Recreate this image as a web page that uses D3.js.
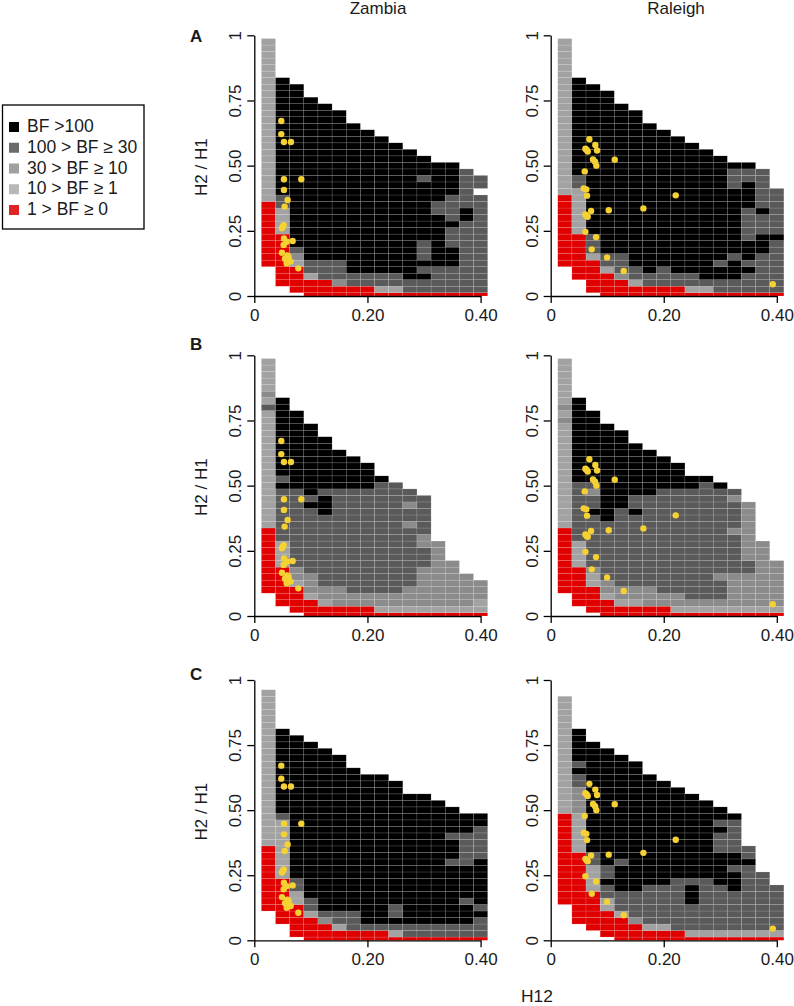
<!DOCTYPE html>
<html><head><meta charset="utf-8">
<script src="https://cdn.jsdelivr.net/npm/d3@7/dist/d3.min.js"></script>
<style>html,body{margin:0;padding:0;background:#fff}svg{display:block}text{font-family:"Liberation Sans",Arial,sans-serif;fill:#1a1a1a}</style>
</head><body><div id="chart"></div>
<script>
// Each column is a run list from the bottom row up: e=empty r,l,m,d,b = BF classes
const zambiaA=["e5 r10 l25","e2 r8 l4 d2 b18","e1 r4 l1 m1 d1 b25","r3 l1 d2 b25","r3 d3 b24","r2 m1 d3 b23","r2 d2 b23","r2 d2 b22","r1 l1 d2 b21","r1 l1 d2 b20","r1 d2 b20","r1 d2 b1 d1 b1 d3 b9 d1 b3","r1 d4 b8 d2 b6","r1 d4 b3 d3 b1 d4 b5","r1 d11 b2 d6","r1 d15 e1 d2"];
const raleighA=["e5 r11 l24","e3 r7 l7 d2 b15","e1 r5 l1 d3 b23","r4 l1 d2 b25","r3 m1 d3 b23","r2 l1 d2 b24","r2 d2 b23","r2 d3 b21","r2 d2 b21","r1 l1 d2 b20","r1 l1 d1 b20","r1 d2 b2 d1 b16","r1 d2 b3 d1 b10 d3 b1","r1 d3 b1 d1 b3 d5 b4 d2 b1","r1 d6 b3 d3 b1 d6","r1 d8 b1 d7"];
const zambiaB=["e4 r10 l18 d1 l1 m1 l5","e2 r6 l4 d8 b1 d1 b12","e1 r4 l1 m2 d12 b12","r3 l1 m3 d10 b1 d1 b11","r2 l1 m2 d11 b3 d1 b8","r2 m3 d15 b6","r2 m2 d16 b5","r2 m2 d16 b4","r1 l1 m2 d17 b1","r1 l1 m2 d17","r1 l1 m3 d9 m1 d2 m1 d2","r1 l1 m6 d3 m2 d6","r1 l1 m10","r1 l1 m7","r1 l1 m5","r1 l2 m3"];
const raleighB=["e4 r10 l16 m1 l1 m1 l7","e2 r6 l4 d9 b13","e1 r4 l2 m1 d8 b1 d2 m1 d1 b11","r3 l1 m2 d9 b15","r2 l1 m2 d12 b12","r2 l1 m2 d11 b1 d2 b8","r2 m3 d14 b7","r2 m2 d16 b5","r1 l1 m2 d16 b4","r1 l1 m1 d17 b2","r1 l1 m1 d18 b1","r1 l1 m1 d3 m1 d13 b1","r1 l1 m5 d6 m1 d4 m1 d1","r1 l1 m5 d2 m9","r1 l1 m10","r1 l1 m7"];
const zambiaC=["e5 r10 l24","e3 r7 l9 d1 b13","e1 r5 l2 d2 b22","r4 l1 d2 b24","r3 m1 d1 b25","r2 l1 d2 b24","r2 d3 b22","r2 d1 b23","r2 d1 b23","r1 l1 d1 b1 d2 b19","r1 d2 b20","r1 d2 b20","r1 d2 b19","r1 d2 b9 d1 b3 d1 b4","r1 d2 b3 d1 b5 d5 b3","r1 d3 b1 d1 b7 d5 b2"];
const raleighC=["e6 r14 l18","e3 r11 l6 m4 d2 b1 d1 b5","e2 r6 l4 d2 b17","e1 r4 l2 d2 b1 d2 b18","r4 l1 d3 b4 d1 b16","r3 m1 d4 b20","r2 l1 d6 b17","r2 l1 d6 b16","r2 d8 b14","r1 l1 d4 b3 d1 b13","r1 l1 d8 b12","r1 l1 d7 b5 d3 b1 d1 b2","r1 l1 d6 b3 d1 b2 d5 b1","r1 l1 d10 b1 d2","r1 l1 d9","r1 l1 d7"];

const zambiaDotsX=[.0477,.0477,.0524,.0648,.0524,.0831,.0524,.0589,.0536,.0519,.0489,.0501,.0524,.0572,.0678,.0519,.0489,.0583,.0607,.0542,.0642,.0572,.056,.0778];
const zambiaDotsY=[.671,.621,.591,.591,.448,.448,.407,.368,.343,.272,.260,.266,.221,.208,.211,.196,.166,.156,.151,.143,.132,.125,.141,.106];
const raleighDotsX=[.0684,.079,.0614,.0637,.0655,.082,.0749,.0785,.0808,.1133,.0602,.0584,.0631,.0643,.0714,.1027,.164,.2212,.0614,.0637,.0655,.0614,.0802,.0726,.0997,.1292,.3929];
const raleighDotsY=[.601,.579,.565,.56,.554,.558,.524,.515,.5,.523,.478,.413,.409,.385,.326,.329,.336,.386,.313,.307,.304,.246,.226,.179,.148,.096,.045];

const xTickValues=[0,.2,.4], xTickLabels=["0","0.20","0.40"];
const yTickValues=[0,.25,.5,.75,1], yTickLabels=["0","0.25","0.50","0.75","1"];
const classCodes=["b","d","m","l","r"];
const classColors=["#000000","#5a5a5a","#8b8b8b","#a2a2a2","#e00000"];
const legendLabels=["BF >100","100 > BF \u2265 30","30 > BF \u2265 10","10 > BF \u2265 1","1 > BF \u2265 0"];
const legendColors=["#000000","#6b6b6b","#a0a0a0","#b8b8b8","#e02424"];
const colStep=.025,rowStep=.025;

const W=794,H=1006;
const svg=d3.select("#chart").append("svg").attr("width",W).attr("height",H);
const color=d3.scaleOrdinal(classCodes,classColors);

const rowsTop={A:[296,35.3],B:[616,355.3],C:[940.3,680]};
const colsLeft={Zambia:[254.3,480.6],Raleigh:[550.7,776.8]};

function panel(grid,dotsX,dotsY,city,row,showY){
  const x=d3.scaleLinear([0,.4],colsLeft[city]);
  const y=d3.scaleLinear([0,1],rowsTop[row]);
  const g=svg.append("g");
  const cells=[];
  grid.forEach((col,ci)=>{
    let k=0;
    col.split(" ").forEach(run=>{
      const code=run[0],n=+run.slice(1);
      for(let j=0;j<n;j++,k++) if(code!=="e") cells.push({ci,k,code});
    });
  });
  g.selectAll("rect").data(cells).join("rect")
    .attr("x",d=>x(colStep*(d.ci+1)-colStep/2))
    .attr("width",d=>x(colStep*(d.ci+1)+colStep/2)-x(colStep*(d.ci+1)-colStep/2))
    .attr("y",d=>y(rowStep*d.k+rowStep/2))
    .attr("height",d=>y(Math.max(0,rowStep*d.k-rowStep/2))-y(rowStep*d.k+rowStep/2))
    .attr("fill",d=>color(d.code))
    .attr("stroke","#fff").attr("stroke-opacity",.24).attr("stroke-width",.5);
  g.append("g").selectAll("circle").data(dotsX).join("circle")
    .attr("cx",d=>x(d)).attr("cy",(d,i)=>y(dotsY[i])).attr("r",3.2).attr("fill","#f6d133");
  const ax=g.append("g").attr("transform",`translate(0,${y(0)})`)
    .call(d3.axisBottom(x).tickValues(xTickValues).tickFormat((d,i)=>xTickLabels[i]).tickSize(7).tickSizeOuter(0).tickPadding(6));
  const ay=g.append("g").attr("transform",`translate(${x(0)},0)`)
    .call(d3.axisLeft(y).tickValues(yTickValues).tickFormat((d,i)=>yTickLabels[i]).tickSize(7).tickSizeOuter(0));
  [ax,ay].forEach(a=>{a.selectAll("path,line").attr("stroke","#000").attr("stroke-width",1.3);
    a.selectAll("text").attr("font-size",17).attr("font-family",'"Liberation Sans",Arial,sans-serif').attr("fill","#1a1a1a");});
  ay.selectAll("text").attr("x",null).attr("dy",null).attr("text-anchor","middle").attr("transform","translate(-13,0) rotate(-90)");
  if(showY) svg.append("text").attr("transform",`translate(${showY},${(y(0)+y(1))/2+1.5}) rotate(-90)`).attr("text-anchor","middle").attr("font-size",17).text("H2 / H1");
}
panel(zambiaA,zambiaDotsX,zambiaDotsY,"Zambia","A",207);
panel(raleighA,raleighDotsX,raleighDotsY,"Raleigh","A");
panel(zambiaB,zambiaDotsX,zambiaDotsY,"Zambia","B",207);
panel(raleighB,raleighDotsX,raleighDotsY,"Raleigh","B");
panel(zambiaC,zambiaDotsX,zambiaDotsY,"Zambia","C",207);
panel(raleighC,raleighDotsX,raleighDotsY,"Raleigh","C");

svg.append("text").attr("x",378).attr("y",14).attr("text-anchor","middle").attr("font-size",17).text("Zambia");
svg.append("text").attr("x",676).attr("y",14).attr("text-anchor","middle").attr("font-size",17).text("Raleigh");
svg.append("text").attr("x",537).attr("y",1001.5).attr("text-anchor","middle").attr("font-size",17.4).text("H12");
[["A",42],["B",350],["C",680]].forEach(([t,yy])=>svg.append("text").attr("x",190).attr("y",yy).attr("font-size",17).attr("font-weight","bold").attr("fill","#000").text(t));

const lg=svg.append("g");
lg.append("rect").attr("x",2.5).attr("y",105).attr("width",141.5).attr("height",124).attr("fill","#fff").attr("stroke","#000").attr("stroke-width",1.3);
const ly=d3.scalePoint(legendLabels,[126,209]);
lg.selectAll("rect.s").data(legendLabels).join("rect").attr("class","s").attr("x",9).attr("width",10).attr("height",10).attr("y",d=>ly(d)-4).attr("fill",(d,i)=>legendColors[i]);
lg.selectAll("text").data(legendLabels).join("text").attr("x",27).attr("y",d=>ly(d)+6).attr("font-size",17.5).text(d=>d);
</script></body></html>
